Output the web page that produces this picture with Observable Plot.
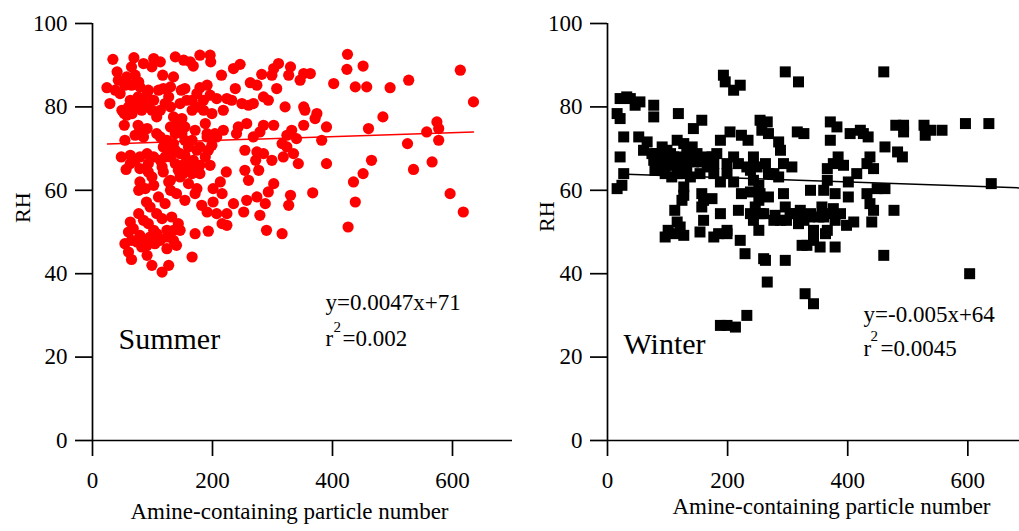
<!DOCTYPE html>
<html><head><meta charset="utf-8">
<script src="https://cdn.jsdelivr.net/npm/d3@7"></script>
<script src="https://cdn.jsdelivr.net/npm/@observablehq/plot@0.6"></script>
<style>
html,body{margin:0;padding:0;background:#fff;overflow:hidden;}
#wrap{position:relative;width:1019px;height:531px;}
#left{position:absolute;left:0;top:0;}
#right{position:absolute;left:520px;top:0;}
svg, svg text{font-family:"Liberation Serif","Times New Roman",Times,serif !important;}
</style></head><body><div id="wrap"><div id="left"></div><div id="right"></div></div>
<script>
// Summer: [amine particle number, RH]
const summer = [
[34,91.4],[24,84.6],[29,80.8],[41,88.4],[43,86.4],[38,84],[46,83.2],[54,85.2],[53,78.4],[57,78],[53,75.6],[54,72],[48,68],[56,65],
[69,91.8],[65,89.6],[71,87.6],[77,86],[63,81.6],[68,80],[76,82.4],[79,80.8],[85,81.6],[91,80],[93,84],[85,90.4],[102,91.6],[99,89.6],
[113,90.8],[117,87.6],[76,75.6],[79,74.8],[91,74.8],[71,73.2],[85,72.8],[63,68.4],[71,67.2],[79,65.2],[93,66.4],[93,64.4],[79,62],[77,60],
[88,60.4],[99,63.2],[102,61.2],[90,57.2],[77,54.4],[63,52.4],[60,50],[68,50.8],[54,47.2],[60,45.2],[65,43.4],[74,47.6],[82,46.4],[91,46.8],
[91,44.4],[93,52],[99,42],[96,48.8],[107,49.6],[104,47.2],[116,40.4],[127,42],[107,54.4],[116,53.2],[124,50.4],[124,46],[135,48],[140,46.8],
[132,53.6],[143,52],[121,56.8],[127,62],[130,60],[140,59.2],[154,57.6],[116,65.6],[118,64.4],[130,62.4],[138,66.4],[149,66],[146,63.2],
[160,66.4],[166,64],[171,65.6],[179,66],[157,64.8],[166,72],[171,74.4],[149,73.6],[154,72],[160,70.4],[138,73.6],[130,75.2],[124,72],
[113,72.8],[107,73.6],[118,70.4],[127,69.6],[107,77.6],[113,79.2],[121,80.8],[130,80],[135,77.6],[141,76],[149,77.2],[118,84.4],[130,84.8],
[135,87.2],[138,92],[152,91.2],[163,90.8],[168,89.8],[148,84],[154,84.4],[157,81.6],[166,79.2],[174,83.2],[179,84.6],[179,92.4],[196,92.4],
[197,90.8],[191,85.2],[185,81.6],[196,82.8],[207,82],[199,78.4],[188,76],[191,73.6],[204,73.6],[218,74.4],[199,70.8],[188,68],[196,66],
[174,60.4],[171,59.2],[182,56.4],[191,54.8],[201,57.2],[201,60.4],[213,62],[216,59.2],[207,54.4],[216,52],[224,51.6],[224,54.4],[235,56.8],
[223,64.4],[218,79.2],[215,87.6],[224,82],[232,81.6],[238,84.4],[235,89.2],[246,90.2],[240,73.6],[243,75.2],[257,76],[249,80.8],[260,80.4],
[268,80.8],[263,85.8],[274,85.2],[282,87.8],[285,82.4],[293,81.6],[299,87.6],[302,89.2],[310,90.4],[307,84.4],[302,75.6],[285,75.6],[279,74],
[268,72.8],[254,69.6],[254,64.8],[260,62.4],[252,54.8],[257,57.6],[272,67.2],[274,69.2],[277,64.8],[274,58.4],[279,54],[288,56.8],[290,50.4],
[285,68.8],[299,67.2],[302,61.6],[293,59.6],[316,49.6],[316,71.2],[318,68],[321,80],[324,73.2],[327,87.6],[330,89.6],[332,74.4],[324,70.4],
[335,68.8],[340,72.4],[343,66.4],[330,58.8],[327,56.4],[346,86.4],[352,88],[363,88],[352,80],[354,79.2],[352,75.6],[374,78.4],[371,77.2],
[382,72],[390,75.2],[390,66.4],[367,59.4],[402,85.6],[425,92.6],[424,89],[438,84.8],[451,89.8],[457,84.8],[460,74.8],[465,67.2],[451,64],
[435,62],[438,57.2],[426,51.2],[496,84.6],[484,77.6],[527,86.4],[525,71.2],[535,65],[557,74],[574,76.4],[577,74.8],[577,72],[566,66.8],
[596,59.2],[613,88.8],[618,54.8],[635,81.2],
[49,79.2],[60,80],[66,78.4],[82,79.2],[99,79.2],[102,81.6],[110,84],[127,82.4],[91,83.2],[79,84.8],[65,85.2],[57,87.2],[146,80.8],[146,74.4],
[154,75.2],[135,71.2],[146,68.8],[130,68],[151,64],[160,61.6],[179,64],[168,67.2],[121,68],[113,67.2],[102,68],[79,68],[91,68.8],[63,66.4],
[110,58.4],[96,56],[85,52.8],[102,50.4],[113,48],[124,48.8],[135,50.4],[146,50.4],[79,49.2],[85,48],[65,48],[179,70.4],[191,72.8],[185,79.2],
[176,80],[166,81.6],[207,72.8],[138,69.6],[154,68.4],[143,64.8],[174,69.6],[193,69.6],[166,44],[171,49.6],[193,50.2]
];
// Winter: [amine particle number, RH]
const winter = [
[16,78.4],[21,77.2],[21,82],[32,82.4],[38,82],[46,80.4],[54,81.2],[21,68],[27,72.8],[27,64],[24,61.2],[16,60.4],[52,72.8],[66,71.6],[60,69.6],
[77,80.4],[77,77.6],[74,68.8],[82,67.2],[79,64.8],[91,70.4],[99,69.6],[93,67.6],[101,66],[96,64],[110,68],[116,65.6],[107,63.2],[118,78.4],
[116,72],[127,71.2],[132,69.2],[141,70.4],[149,68.8],[143,66.8],[132,65.6],[127,64],[138,63.2],[157,76.8],[143,74.8],[157,66.8],[166,65.6],
[174,68],[182,68.8],[188,72],[177,64],[188,62],[127,60.8],[127,58.8],[124,57.6],[112,55.2],[116,52.4],[121,51.2],[101,50.4],[96,48.8],[110,49.6],
[127,49.2],[157,59.2],[160,57.6],[157,56],[160,52.8],[174,58],[154,50],[177,48.8],[188,54.4],[185,49.6],[199,49.6],[193,87.6],[196,86],[210,84],
[221,85.2],[204,74],[199,66.4],[210,68],[218,66.4],[210,62],[223,73.2],[234,72],[223,59.2],[218,55.2],[221,48],[229,44.8],[238,64.8],[243,62.4],
[238,59.6],[238,54.4],[243,52.8],[252,57.6],[252,61.2],[254,76.8],[266,76.4],[257,74.4],[268,73.6],[252,50.4],[260,54.4],[263,66.4],[268,64],
[268,58.4],[260,43.6],[266,38],[263,43.2],[277,64],[285,63.2],[285,71.6],[288,69.6],[279,54],[293,59.2],[293,66.4],[296,88.4],[296,56],[296,43.2],
[298,52.8],[307,65.6],[318,86],[316,74],[327,73.6],[310,54.4],[318,52],[324,46.8],[332,46.8],[329,35.2],[343,32.8],[321,55.2],[327,52.8],[338,60],
[336,53.6],[343,48],[343,50.4],[352,53.6],[354,46.4],[357,56],[360,60],[363,49.6],[366,50.4],[366,62.4],[366,65.2],[371,72],[371,76.4],[382,75.2],
[376,66.4],[384,68],[379,59.2],[376,55.6],[379,52.8],[379,46.4],[393,66],[401,58.4],[401,62],[398,51.6],[404,73.6],[410,52.4],[415,64],[421,74.4],
[426,73.6],[434,72.8],[432,66.4],[437,68],[443,65.2],[432,59.2],[437,56.8],[443,55.2],[440,52.4],[449,60.4],[460,88.4],[462,70.4],[462,60.4],
[460,44.4],[477,55.2],[480,75.6],[483,69.2],[491,68],[493,75.6],[493,74],[527,75.6],[529,73.2],[538,74.4],[557,74.4],[596,76],[603,40],[635,76],
[639,61.6],[188,27.6],[199,27.6],[213,27.2],[232,30],[199,50.4],
[105,68.8],[121,68],[138,67.2],[116,64],[154,64],[166,68],[199,64],[177,66.4],[243,68],[249,65.6],[232,65.6],[254,59.2],[254,54.4],[246,56],
[277,52.8],[288,52.8],[304,54.4],[338,54.4],[360,53.6],[371,54.4],[388,54.4],[77,67.2],[88,65.6],[82,68.8]
];
const yTicks = [0, 20, 40, 60, 80, 100];
const xTicks = [0, 200, 400, 600];
const xTitle = "Amine-containing particle number";
const yTitle = "RH";
const summerFit = {season: "Summer", slope: 0.0047, intercept: 71, from: 25, to: 635, eq: "y=0.0047x+71", r2: "=0.002"};
const winterFit = {season: "Winter", slope: -0.005, intercept: 64, from: 20, to: 700, eq: "y=-0.005x+64", r2: "=0.0045"};

const FONT = '"Liberation Serif", "Times New Roman", Times, serif';

function panel(points, fit, o) {
  const t = {frameAnchor: "top-left", textAnchor: "start", lineAnchor: "bottom", fontFamily: FONT};
  return Plot.plot({
    width: o.width, height: 531,
    marginLeft: o.ml, marginRight: o.mr, marginTop: 23, marginBottom: 91,
    x: {domain: [0, o.xMax]},
    y: {domain: [0, 100]},
    style: {fontFamily: FONT, fontSize: "23px", color: "black", background: "white"},
    marks: [
      Plot.dot(points, {x: d => d[0], y: d => d[1], r: o.r, fill: o.color, symbol: o.symbol}),
      Plot.line([fit.from, fit.to], {x: d => d, y: d => fit.slope * d + fit.intercept, stroke: o.color, strokeWidth: 1.5, clip: true}),
      Plot.ruleX([0], {y1: 0, y2: 100, strokeWidth: 1.7}),
      Plot.ruleY([0], {x1: 0, x2: o.xMax, strokeWidth: 1.7}),
      Plot.axisY(yTicks, {tickSize: 17, tickPadding: 8, strokeWidth: 1.7, label: null, tickFormat: d => d, fontFamily: FONT}),
      Plot.axisX(xTicks, {tickSize: 16, tickPadding: 15, strokeWidth: 1.7, label: null, tickFormat: d => d, fontFamily: FONT}),
      Plot.text([xTitle], {text: d => d, frameAnchor: "bottom", lineAnchor: "bottom", dx: o.xtDx, dy: o.xtDy, fontSize: 23, fontFamily: FONT}),
      Plot.text([yTitle], {text: d => d, frameAnchor: "left", rotate: -90, dx: o.ytDx, dy: o.ytDy, fontSize: 22, fontFamily: FONT}),
      Plot.text([fit.season], {...t, text: d => d, dx: o.sDx, dy: o.sDy, fontSize: 30}),
      Plot.text([fit.eq], {...t, text: d => d, dx: o.eDx, dy: o.eDy, fontSize: 23}),
      Plot.text(["r"], {...t, text: d => d, dx: o.eDx, dy: o.rDy, fontSize: 23}),
      Plot.text(["2"], {...t, text: d => d, dx: o.eDx + o.supDx, dy: o.supDy, fontSize: 15}),
      Plot.text([fit.r2], {...t, text: d => d, dx: o.eDx + o.r2Dx, dy: o.rDy, fontSize: 23})
    ]
  });
}

document.getElementById("left").append(panel(summer, summerFit, {
  width: 520, ml: 92, mr: 8, xMax: 700, r: 5.6, color: "#ff0000", symbol: "circle",
  xtDx: -13, xtDy: 78, ytDx: -70, ytDy: -9, sDx: 26, sDy: 325,
  eDx: 233, eDy: 286, rDy: 322, supDx: 8, supDy: 308, r2Dx: 17
}));
document.getElementById("right").append(panel(winter, winterFit, {
  width: 499, ml: 87, mr: 0, xMax: 686, r: 6.2, color: "#000000", symbol: "square",
  xtDx: 18, xtDy: 73, ytDx: -61, ytDy: 0, sDx: 16, sDy: 330,
  eDx: 256, eDy: 298, rDy: 332, supDx: 7, supDy: 317, r2Dx: 17
}));
</script>
</body></html>
